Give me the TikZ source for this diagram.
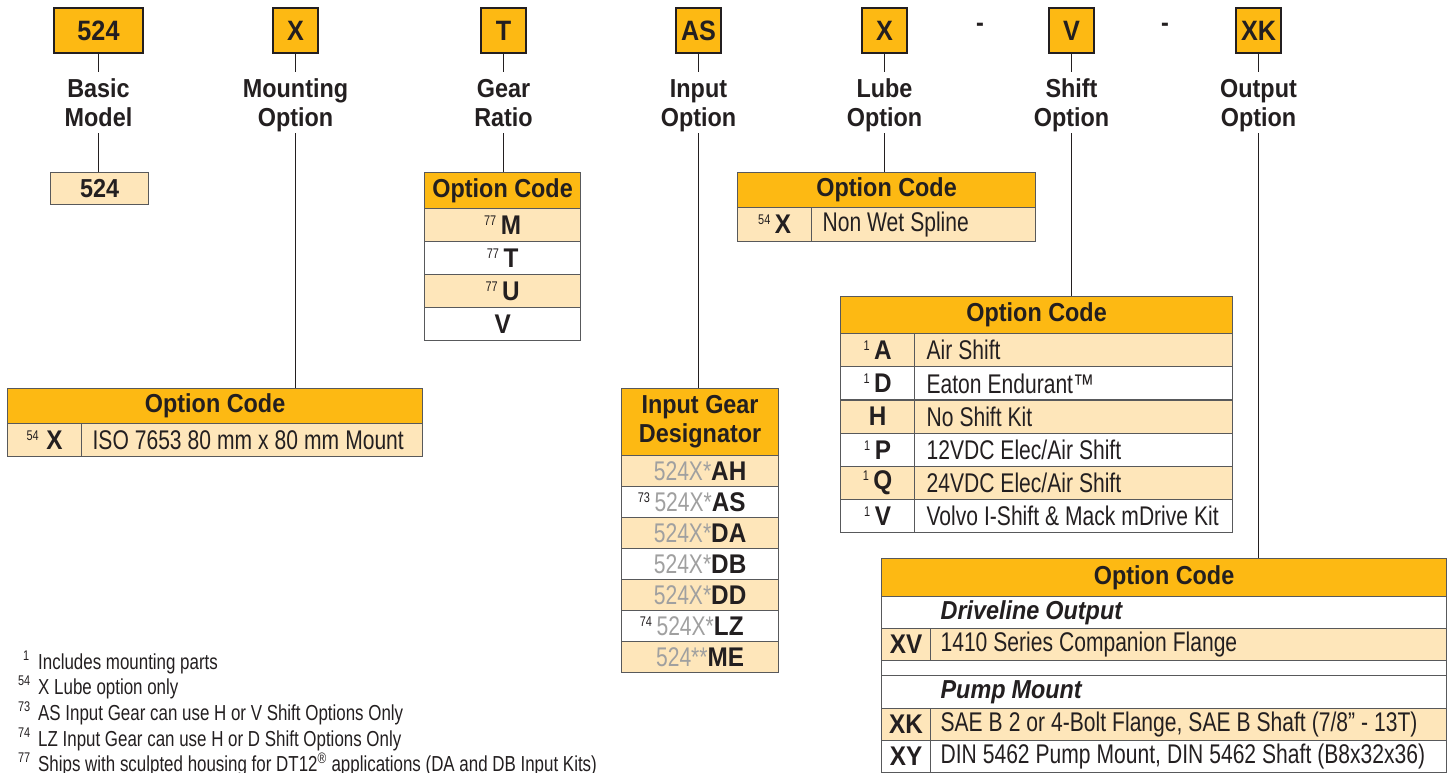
\documentclass[tikz,border=0pt]{standalone}
\usepackage{fontspec}
\setmainfont[FakeStretch=0.78]{Liberation Sans}
\newfontfamily\boldcond[FakeStretch=0.9]{Liberation Sans}
\usetikzlibrary{positioning}

\definecolor{codeorange}{HTML}{FDB913}
\definecolor{codelight}{HTML}{FEE6BA}
\definecolor{rulegray}{HTML}{58595B}
\definecolor{inkdark}{HTML}{231F20}
\definecolor{partgray}{HTML}{A0A0A0}

\newcommand{\bigbold}{\boldcond\bfseries\fontsize{26}{29}\selectfont}
\newcommand{\cellreg}{\fontsize{27}{27}\selectfont}
\newcommand{\fnmark}[1]{\raisebox{9pt}{\fontsize{14}{14}\selectfont #1}}
\newcommand{\code}[1]{{\boldcond\bfseries #1}}
\newcommand{\partno}[1]{{\color{partgray}#1}}
\newcommand{\twoline}[2]{\rule{0pt}{26pt}#1\\#2\rule[-6pt]{0pt}{6pt}}
\newcommand{\celltext}[1]{\mbox{\spaceskip=6pt\xspaceskip=6pt\relax #1}}

\tikzset{
  posbox/.style={draw=inkdark, line width=2.5pt, fill=codeorange, inner sep=0pt,
    minimum width=45pt, minimum height=45pt,
    font=\boldcond\bfseries\fontsize{28}{28}\selectfont, text=inkdark},
  title/.style={align=center, inner sep=0pt, font=\bigbold, text=inkdark},
  hdr/.style={draw=rulegray, line width=1.2pt, fill=codeorange, inner sep=0pt,
    anchor=north west, font=\bigbold, text=inkdark},
  cell/.style={draw=rulegray, line width=1.2pt, fill=white, inner sep=0pt,
    anchor=north west, font=\cellreg, text=inkdark},
  lite/.style={cell, fill=codelight},
  conn/.style={draw=inkdark, line width=1.3pt},
  fnote/.style={anchor=base west, inner sep=0pt, font=\fontsize{21.7}{22}\selectfont, text=inkdark}
}

\begin{document}
\begin{tikzpicture}[x=1pt, y=-1pt]
\useasboundingbox (0,0) rectangle (1452,773);

% position boxes
\node[posbox, minimum width=89pt] (p524) at (98.5,30.5) {524};
\node[posbox] (pX)    at (295.5,30.5)  {X};
\node[posbox] (pT)    at (503.5,30.5)  {T};
\node[posbox] (pAS)   at (698.5,30.5)  {AS};
\node[posbox] (pLube) at (884.5,30.5)  {X};
\node[posbox] (pV)    at (1071.5,30.5) {V};
\node[posbox] (pXK)   at (1258.5,30.5) {XK};
\node[font=\bigbold, text=inkdark] (dashA) at (980,27)  {-};
\node[font=\bigbold, text=inkdark] (dashB) at (1165,27) {-};

% titles
\node[title] (tBasic) at (98.5,102.5)   {\twoline{Basic}{Model}};
\node[title] (tMount) at (295.5,102.5)  {\twoline{Mounting}{Option}};
\node[title] (tGear)  at (503.5,102.5)  {\twoline{Gear}{Ratio}};
\node[title] (tInput) at (698.5,102.5)  {\twoline{Input}{Option}};
\node[title] (tLube)  at (884.5,102.5)  {\twoline{Lube}{Option}};
\node[title] (tShift) at (1071.5,102.5) {\twoline{Shift}{Option}};
\node[title] (tOut)   at (1258.5,102.5) {\twoline{Output}{Option}};

% basic model
\node[lite, font=\bigbold, minimum width=98pt, minimum height=32pt] (b524) at (50,172) {524};

% mounting option
\node[hdr, minimum width=415pt, minimum height=35pt] (mountHdr) at (7,388) {Option Code};
\node[lite, minimum width=74pt, minimum height=33pt] (mountCode) at (7,423) {\fnmark{54}\;\code{X}};
\node[lite, minimum height=33pt, text width=319pt, inner xsep=11pt, align=left] (mountDesc) at (81,423) {\celltext{ISO 7653 80 mm x 80 mm Mount}};

% gear ratio
\node[hdr, minimum width=156pt, minimum height=36pt] (gearHdr) at (424,172) {Option Code};
\node[lite, minimum width=156pt, minimum height=33pt] (gearM) at (424,208) {\fnmark{77}\,\code{M}};
\node[cell, minimum width=156pt, minimum height=33pt] (gearT) at (424,241) {\fnmark{77}\,\code{T}};
\node[lite, minimum width=156pt, minimum height=33pt] (gearU) at (424,274) {\fnmark{77}\,\code{U}};
\node[cell, minimum width=156pt, minimum height=33pt] (gearV) at (424,307) {\code{V}};

% input option
\node[hdr, minimum width=157pt, minimum height=67pt, align=center] (inHdr) at (621,388) {Input Gear\\Designator};
\node[lite, minimum width=157pt, minimum height=31pt] (inAH) at (621,455) {\partno{524X*}\code{AH}};
\node[cell, minimum width=157pt, minimum height=31pt] (inAS) at (621,486) {\llap{\fnmark{73}\,}\partno{524X*}\code{AS}};
\node[lite, minimum width=157pt, minimum height=31pt] (inDA) at (621,517) {\partno{524X*}\code{DA}};
\node[cell, minimum width=157pt, minimum height=31pt] (inDB) at (621,548) {\partno{524X*}\code{DB}};
\node[lite, minimum width=157pt, minimum height=31pt] (inDD) at (621,579) {\partno{524X*}\code{DD}};
\node[cell, minimum width=157pt, minimum height=31pt] (inLZ) at (621,610) {\llap{\fnmark{74}\,}\partno{524X*}\code{LZ}};
\node[lite, minimum width=157pt, minimum height=31pt] (inME) at (621,641) {\partno{524**}\code{ME}};

% lube option
\node[hdr, minimum width=298pt, minimum height=35pt] (lubeHdr) at (737,172) {Option Code};
\node[lite, minimum width=74pt, minimum height=34pt] (lubeCode) at (737,207) {\fnmark{54}\,\code{X}};
\node[lite, minimum height=34pt, text width=202pt, inner xsep=11pt, align=left] (lubeDesc) at (811,207) {\celltext{Non Wet Spline}};

% shift option
\node[hdr, minimum width=392pt, minimum height=37pt] (shiftHdr) at (840,296) {Option Code};
\node[lite, minimum width=74pt, minimum height=33.2pt] (shA) at (840,333)   {\fnmark{1}\,\code{A}};
\node[cell, minimum width=74pt, minimum height=33.2pt] (shD) at (840,366.2) {\fnmark{1}\,\code{D}};
\node[lite, minimum width=74pt, minimum height=33.2pt] (shH) at (840,399.4) {\code{H}};
\node[cell, minimum width=74pt, minimum height=33.2pt] (shP) at (840,432.6) {\fnmark{1}\,\code{P}};
\node[lite, minimum width=74pt, minimum height=33.2pt] (shQ) at (840,465.8) {\fnmark{1}\,\code{Q}};
\node[cell, minimum width=74pt, minimum height=33.2pt] (shV) at (840,499)   {\fnmark{1}\,\code{V}};
\node[lite, minimum height=33.2pt, text width=294pt, inner xsep=12pt, align=left] (shAd) at (914,333)   {\celltext{Air Shift}};
\node[cell, minimum height=33.2pt, text width=294pt, inner xsep=12pt, align=left] (shDd) at (914,366.2) {\celltext{Eaton Endurant™}};
\node[lite, minimum height=33.2pt, text width=294pt, inner xsep=12pt, align=left] (shHd) at (914,399.4) {\celltext{No Shift Kit}};
\node[cell, minimum height=33.2pt, text width=294pt, inner xsep=12pt, align=left] (shPd) at (914,432.6) {\celltext{12VDC Elec/Air Shift}};
\node[lite, minimum height=33.2pt, text width=294pt, inner xsep=12pt, align=left] (shQd) at (914,465.8) {\celltext{24VDC Elec/Air Shift}};
\node[cell, minimum height=33.2pt, text width=294pt, inner xsep=12pt, align=left] (shVd) at (914,499)   {\celltext{Volvo I-Shift \& Mack mDrive Kit}};

% output option
\node[hdr, minimum width=565pt, minimum height=38pt] (outHdr) at (881,558) {Option Code};
\node[cell, minimum height=32pt, text width=447pt, inner xsep=59pt, align=left, font=\bigbold\itshape] (outDrive) at (881,596) {\celltext{Driveline Output}};
\node[lite, minimum width=49pt, minimum height=32pt] (outXV) at (881,628) {\code{XV}};
\node[lite, minimum height=32pt, text width=496pt, inner xsep=10pt, align=left] (outXVd) at (930,628) {\celltext{1410 Series Companion Flange}};
\node[cell, minimum width=565pt, minimum height=15pt] (outGap) at (881,660) {};
\node[cell, minimum height=33pt, text width=447pt, inner xsep=59pt, align=left, font=\bigbold\itshape] (outPump) at (881,675) {\celltext{Pump Mount}};
\node[lite, minimum width=49pt, minimum height=32pt] (outXK) at (881,708) {\code{XK}};
\node[lite, minimum height=32pt, text width=496pt, inner xsep=10pt, align=left] (outXKd) at (930,708) {\celltext{SAE B 2 or 4-Bolt Flange, SAE B Shaft (7/8\symbol{34} - 13T)}};
\node[cell, minimum width=49pt, minimum height=32pt] (outXY) at (881,740) {\code{XY}};
\node[cell, minimum height=32pt, text width=496pt, inner xsep=10pt, align=left] (outXYd) at (930,740) {\celltext{DIN 5462 Pump Mount, DIN 5462 Shaft (B8x32x36)}};

% connectors
\draw[conn] (p524.south) -- (tBasic.north);
\draw[conn] (tBasic.south) -- (tBasic.south |- b524.north);
\draw[conn] (pX.south) -- (tMount.north);
\draw[conn] (tMount.south) -- (tMount.south |- mountHdr.north);
\draw[conn] (pT.south) -- (tGear.north);
\draw[conn] (tGear.south) -- (tGear.south |- gearHdr.north);
\draw[conn] (pAS.south) -- (tInput.north);
\draw[conn] (tInput.south) -- (tInput.south |- inHdr.north);
\draw[conn] (pLube.south) -- (tLube.north);
\draw[conn] (tLube.south) -- (tLube.south |- lubeHdr.north);
\draw[conn] (pV.south) -- (tShift.north);
\draw[conn] (tShift.south) -- (tShift.south |- shiftHdr.north);
\draw[conn] (pXK.south) -- (tOut.north);
\draw[conn] (tOut.south) -- (tOut.south |- outHdr.north);

% footnotes
\node[fnote] (fn1)  at (38,669) {\llap{\fnmark{1}\hspace{9pt}}Includes mounting parts};
\node[fnote] (fn54) at (38,694) {\llap{\fnmark{54}\hspace{8pt}}X Lube option only};
\node[fnote] (fn73) at (38,720) {\llap{\fnmark{73}\hspace{8pt}}AS Input Gear can use H or V Shift Options Only};
\node[fnote] (fn74) at (38,746) {\llap{\fnmark{74}\hspace{8pt}}LZ Input Gear can use H or D Shift Options Only};
\node[fnote] (fn77) at (38,771) {\llap{\fnmark{77}\hspace{8pt}}Ships with sculpted housing for DT12\textsuperscript{®} applications (DA and DB Input Kits)};
\end{tikzpicture}
\end{document}
